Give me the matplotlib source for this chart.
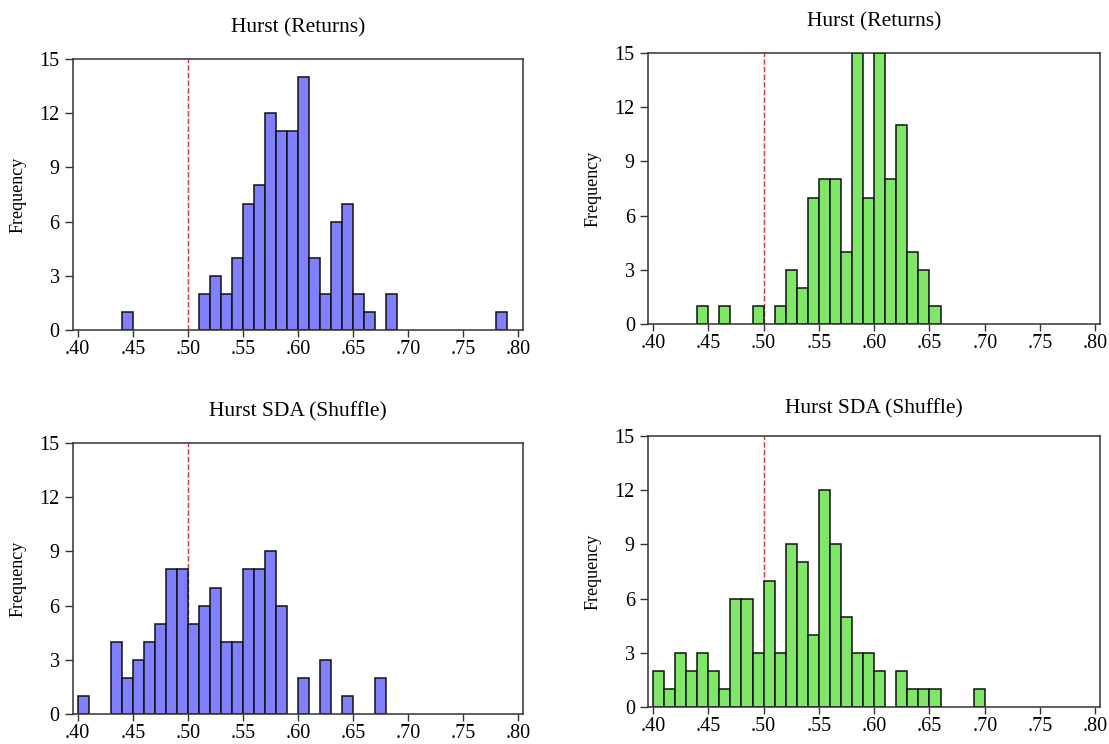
import matplotlib
matplotlib.use("Agg")
import matplotlib.pyplot as plt
from matplotlib.ticker import FixedLocator, FuncFormatter

plt.rcParams["font.family"] = ["Liberation Serif", "DejaVu Serif"]

# bin left edges (width .01) and counts
tl_bins = [0.44, 0.51, 0.52, 0.53, 0.54, 0.55, 0.56, 0.57, 0.58, 0.59,
           0.60, 0.61, 0.62, 0.63, 0.64, 0.65, 0.66, 0.68, 0.78]
tl_counts = [1, 2, 3, 2, 4, 7, 8, 12, 11, 11, 14, 4, 2, 6, 7, 2, 1, 2, 1]

tr_bins = [0.44, 0.46, 0.49, 0.51, 0.52, 0.53, 0.54, 0.55, 0.56, 0.57,
           0.58, 0.59, 0.60, 0.61, 0.62, 0.63, 0.64, 0.65]
tr_counts = [1, 1, 1, 1, 3, 2, 7, 8, 8, 4, 15, 7, 15, 8, 11, 4, 3, 1]

bl_bins = [0.40, 0.43, 0.44, 0.45, 0.46, 0.47, 0.48, 0.49, 0.50, 0.51,
           0.52, 0.53, 0.54, 0.55, 0.56, 0.57, 0.58, 0.60, 0.62, 0.64, 0.67]
bl_counts = [1, 4, 2, 3, 4, 5, 8, 8, 5, 6, 7, 4, 4, 8, 8, 9, 6, 2, 3, 1, 2]

br_bins = [0.40, 0.41, 0.42, 0.43, 0.44, 0.45, 0.46, 0.47, 0.48, 0.49,
           0.50, 0.51, 0.52, 0.53, 0.54, 0.55, 0.56, 0.57, 0.58, 0.59,
           0.60, 0.62, 0.63, 0.64, 0.65, 0.69]
br_counts = [2, 1, 3, 2, 3, 2, 1, 6, 6, 3, 7, 3, 9, 8, 4, 12, 9, 5, 3, 3,
             2, 2, 1, 1, 1, 1]

x_ticks = [0.40, 0.45, 0.50, 0.55, 0.60, 0.65, 0.70, 0.75, 0.80]
y_ticks = [0, 3, 6, 9, 12, 15]
bin_width = 0.01
ref_line = 0.50

BLUE = "#8080ff"
GREEN = "#80e668"

panels = [
    # bins, counts, color, title, [left, bottom, width, height], title pad
    (tl_bins, tl_counts, BLUE, "Hurst (Returns)", [0.0656, 0.5565, 0.4060, 0.3642], 19),
    (tr_bins, tr_counts, GREEN, "Hurst (Returns)", [0.5843, 0.5645, 0.4076, 0.3643], 19),
    (bl_bins, bl_counts, BLUE, "Hurst SDA (Shuffle)", [0.0656, 0.0403, 0.4060, 0.3643], 19),
    (br_bins, br_counts, GREEN, "Hurst SDA (Shuffle)", [0.5843, 0.0497, 0.4076, 0.3643], 16.5),
]

fig = plt.figure(figsize=(11.09, 7.44), dpi=100)

for bins, counts, color, title, rect, pad in panels:
    ax = fig.add_axes(rect)
    ax.axvline(ref_line, color="#c83c3c", lw=1.0, ls=(0, (4, 1.5)), zorder=1)
    ax.bar(bins, counts, width=bin_width, align="edge", color=color,
           edgecolor="#111111", linewidth=1.1, zorder=2)
    ax.set_xlim(0.3955, 0.8042)
    ax.set_ylim(0, 15)
    ax.xaxis.set_major_locator(FixedLocator(x_ticks))
    ax.xaxis.set_major_formatter(FuncFormatter(lambda v, p: f"{v:.2f}".lstrip("0")))
    ax.yaxis.set_major_locator(FixedLocator(y_ticks))
    ax.tick_params(axis="x", length=5, width=1, pad=2.5, labelsize=14.5, color="#333333")
    ax.tick_params(axis="y", length=6, width=1, pad=3.5, labelsize=14.5, color="#333333")
    for s in ax.spines.values():
        s.set_color("#333333")
        s.set_linewidth(1.1)
    ax.set_title(title, fontsize=15.5, pad=pad)
    ax.set_ylabel("Frequency", fontsize=13)
    ax.yaxis.set_label_coords(-0.102, 0.5)

fig.savefig("out.png", dpi=100)
